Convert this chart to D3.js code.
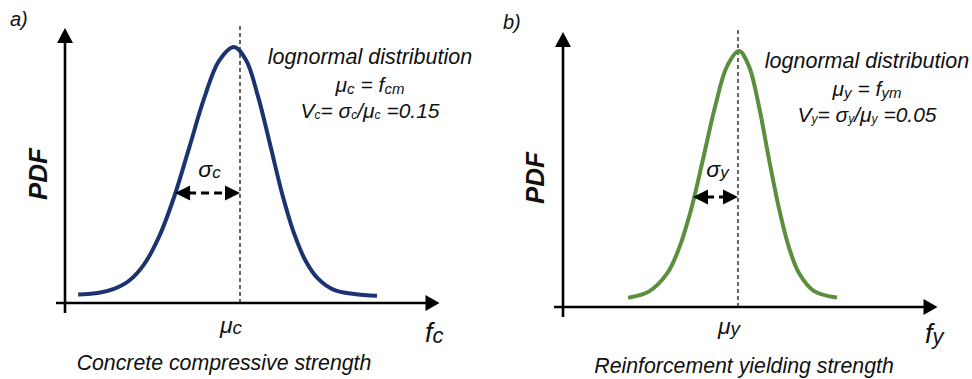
<!DOCTYPE html>
<html><head><meta charset="utf-8">
<script src="https://cdn.jsdelivr.net/npm/d3@7"></script>
<style>
html,body{margin:0;padding:0;background:#fff;}
svg{display:block;font-family:"Liberation Sans",Arial,sans-serif;}
</style></head>
<body>
<svg id="chart" width="972" height="379"></svg>
<script>
// ---- data (x = f / mean, y = PDF normalised to peak) ----
const panelLabels = ["a)", "b)"];
const curveColors = ["#1b3470", "#5b8e3d"];
const concreteX = [0.075, 0.195, 0.280, 0.366, 0.452, 0.537, 0.623, 0.709, 0.795, 0.880, 0.966, 1.035, 1.103, 1.172, 1.240, 1.309, 1.377, 1.446, 1.537, 1.652, 1.783];
const concreteY = [0.033, 0.040, 0.055, 0.087, 0.151, 0.258, 0.413, 0.605, 0.799, 0.946, 1.000, 0.948, 0.807, 0.619, 0.429, 0.272, 0.162, 0.095, 0.051, 0.035, 0.028];
const steelX = [0.372, 0.492, 0.595, 0.663, 0.732, 0.800, 0.869, 0.937, 1.006, 1.063, 1.120, 1.177, 1.235, 1.292, 1.349, 1.435, 1.566];
const steelY = [0.036, 0.061, 0.131, 0.229, 0.381, 0.577, 0.782, 0.940, 1.000, 0.940, 0.783, 0.578, 0.383, 0.231, 0.132, 0.062, 0.037];
const meanValue = [1.0, 1.0];
const sigmaArrowStart = [0.629, 0.743];   // left end of σ arrow (x)
const sigmaArrowLevel = [0.43, 0.43];      // height of σ arrow (y)
const covValues = ["0.15", "0.05"];
const subs = ["c", "y"];
const axisTitles = ["Concrete compressive strength", "Reinforcement yielding strength"];
const xDomain = [0, 2.14];
const yDomain = [0, 1];

const svg = d3.select("#chart");

function rich(g, x, y, parts, size, subSize, anchor, dyv, weight) {
  const t = g.append("text").attr("x", x).attr("y", y)
    .attr("text-anchor", anchor || "start")
    .attr("font-style", "italic")
    .attr("font-weight", weight || "normal")
    .attr("font-size", size).attr("fill", "#111");
  const d = dyv === undefined ? 2 : dyv;
  let shifted = false;
  parts.forEach(([txt, sub]) => {
    const s = t.append("tspan").text(txt);
    if (sub) {
      s.attr("font-size", subSize);
      if (!shifted) { s.attr("dy", d); shifted = true; }
    } else if (shifted) { s.attr("dy", -d); shifted = false; }
  });
  return t;
}

const panels = [
  {ox: 65, oy: 303, xs: concreteX, ys: concreteY, labX: 10, labY: 26, noteX: 370, noteY: 64, pdfX: 38, pdfY: 174, titleX: 224, titleY: 370, symY: 333, fX: 425, fY: 342, sigY: 177},
  {ox: 563, oy: 307, xs: steelX, ys: steelY, labX: 503, labY: 29, noteX: 867, noteY: 68, pdfX: 535, pdfY: 178, titleX: 744, titleY: 373, symY: 334, fX: 925, fY: 343, sigY: 177}
];

panels.forEach((p, i) => {
  const g = svg.append("g");
  const x = d3.scaleLinear().domain(xDomain).range([p.ox, p.ox + 175 * (xDomain[1] - xDomain[0])]);
  const y = d3.scaleLinear().domain(yDomain).range([p.oy, p.oy - 256]);
  const xMin = x.invert(p.ox - 9), yMin = y.invert(p.oy + 10), yMax = y.invert(p.oy - 275);

  // axes
  g.append("line").attr("x1", x(xMin)).attr("x2", x(xDomain[1]) - 10)
    .attr("y1", y(0)).attr("y2", y(0)).attr("stroke", "#000").attr("stroke-width", 2.6);
  g.append("line").attr("x1", x(0)).attr("x2", x(0))
    .attr("y1", y(yMin)).attr("y2", y(yMax) + 10).attr("stroke", "#000").attr("stroke-width", 2.6);
  const xt = x(xDomain[1]), yt = y(yMax);
  g.append("path").attr("d", `M${xt},${y(0)} L${xt - 14},${y(0) - 8} L${xt - 14},${y(0) + 8} Z`).attr("fill", "#000");
  g.append("path").attr("d", `M${x(0)},${yt} L${x(0) - 8},${yt + 15} L${x(0) + 8},${yt + 15} Z`).attr("fill", "#000");

  // mean dashed line
  g.append("line").attr("x1", x(meanValue[i])).attr("x2", x(meanValue[i]))
    .attr("y1", yt - 2).attr("y2", y(0)).attr("stroke", "#000")
    .attr("stroke-width", 1.2).attr("stroke-dasharray", "4,3");

  // curve
  const pts = p.xs.map((v, k) => [v, p.ys[k]]);
  g.append("path").datum(pts)
    .attr("d", d3.line().x(d => x(d[0])).y(d => y(d[1])).curve(d3.curveCatmullRom.alpha(0.5)))
    .attr("fill", "none").attr("stroke", curveColors[i]).attr("stroke-width", 4)
    .attr("stroke-linecap", "butt");

  // sigma arrow
  const ay = y(sigmaArrowLevel[i]);
  const x0 = x(sigmaArrowStart[i]), x1 = x(meanValue[i]);
  g.append("line").attr("x1", x0 + 13).attr("x2", x1 - 13).attr("y1", ay).attr("y2", ay)
    .attr("stroke", "#000").attr("stroke-width", 3).attr("stroke-dasharray", "8,5");
  g.append("path").attr("d", `M${x0},${ay} L${x0 + 15},${ay - 7.5} L${x0 + 15},${ay + 7.5} Z`).attr("fill", "#000");
  g.append("path").attr("d", `M${x1},${ay} L${x1 - 15},${ay - 7.5} L${x1 - 15},${ay + 7.5} Z`).attr("fill", "#000");
  rich(g, (x0 + x1) / 2 + 2, p.sigY, [["σ", false], [subs[i], true]], 23, 17, "middle", 1);

  // panel label
  g.append("text").attr("x", p.labX).attr("y", p.labY).attr("font-size", 20)
    .attr("font-style", "italic").attr("fill", "#111").text(panelLabels[i]);

  // notes
  rich(g, p.noteX, p.noteY, [["lognormal distribution", false]], 21.5, 14, "middle");
  rich(g, p.noteX, p.noteY + 28, [["μ", false], [subs[i], true], [" = f", false], [subs[i] + "m", true]], 21, 15, "middle", 1.5);
  rich(g, p.noteX, p.noteY + 54, [["V", false], [subs[i], true], ["= σ", false], [subs[i], true], ["/μ", false], [subs[i], true], [" =" + covValues[i], false]], 21, 12, "middle", 1);

  // PDF label
  g.append("text").attr("transform", `translate(${p.pdfX},${p.pdfY}) rotate(-90)`)
    .attr("text-anchor", "middle").attr("dominant-baseline", "central")
    .attr("font-size", 26).attr("font-weight", "bold").attr("font-style", "italic")
    .attr("fill", "#111").text("PDF");

  // mean symbol under axis
  rich(g, x(meanValue[i]) - 20, p.symY, [["μ", false], [subs[i], true]], 23, 19, "start", 1);
  // axis variable
  rich(g, p.fX, p.fY, [["f", false], [subs[i], true]], 27, 22, "start", 1);

  // title
  g.append("text").attr("x", p.titleX).attr("y", p.titleY)
    .attr("text-anchor", "middle").attr("font-size", 21.3).attr("font-style", "italic")
    .attr("fill", "#111").text(axisTitles[i]);
});
</script>
</body></html>
